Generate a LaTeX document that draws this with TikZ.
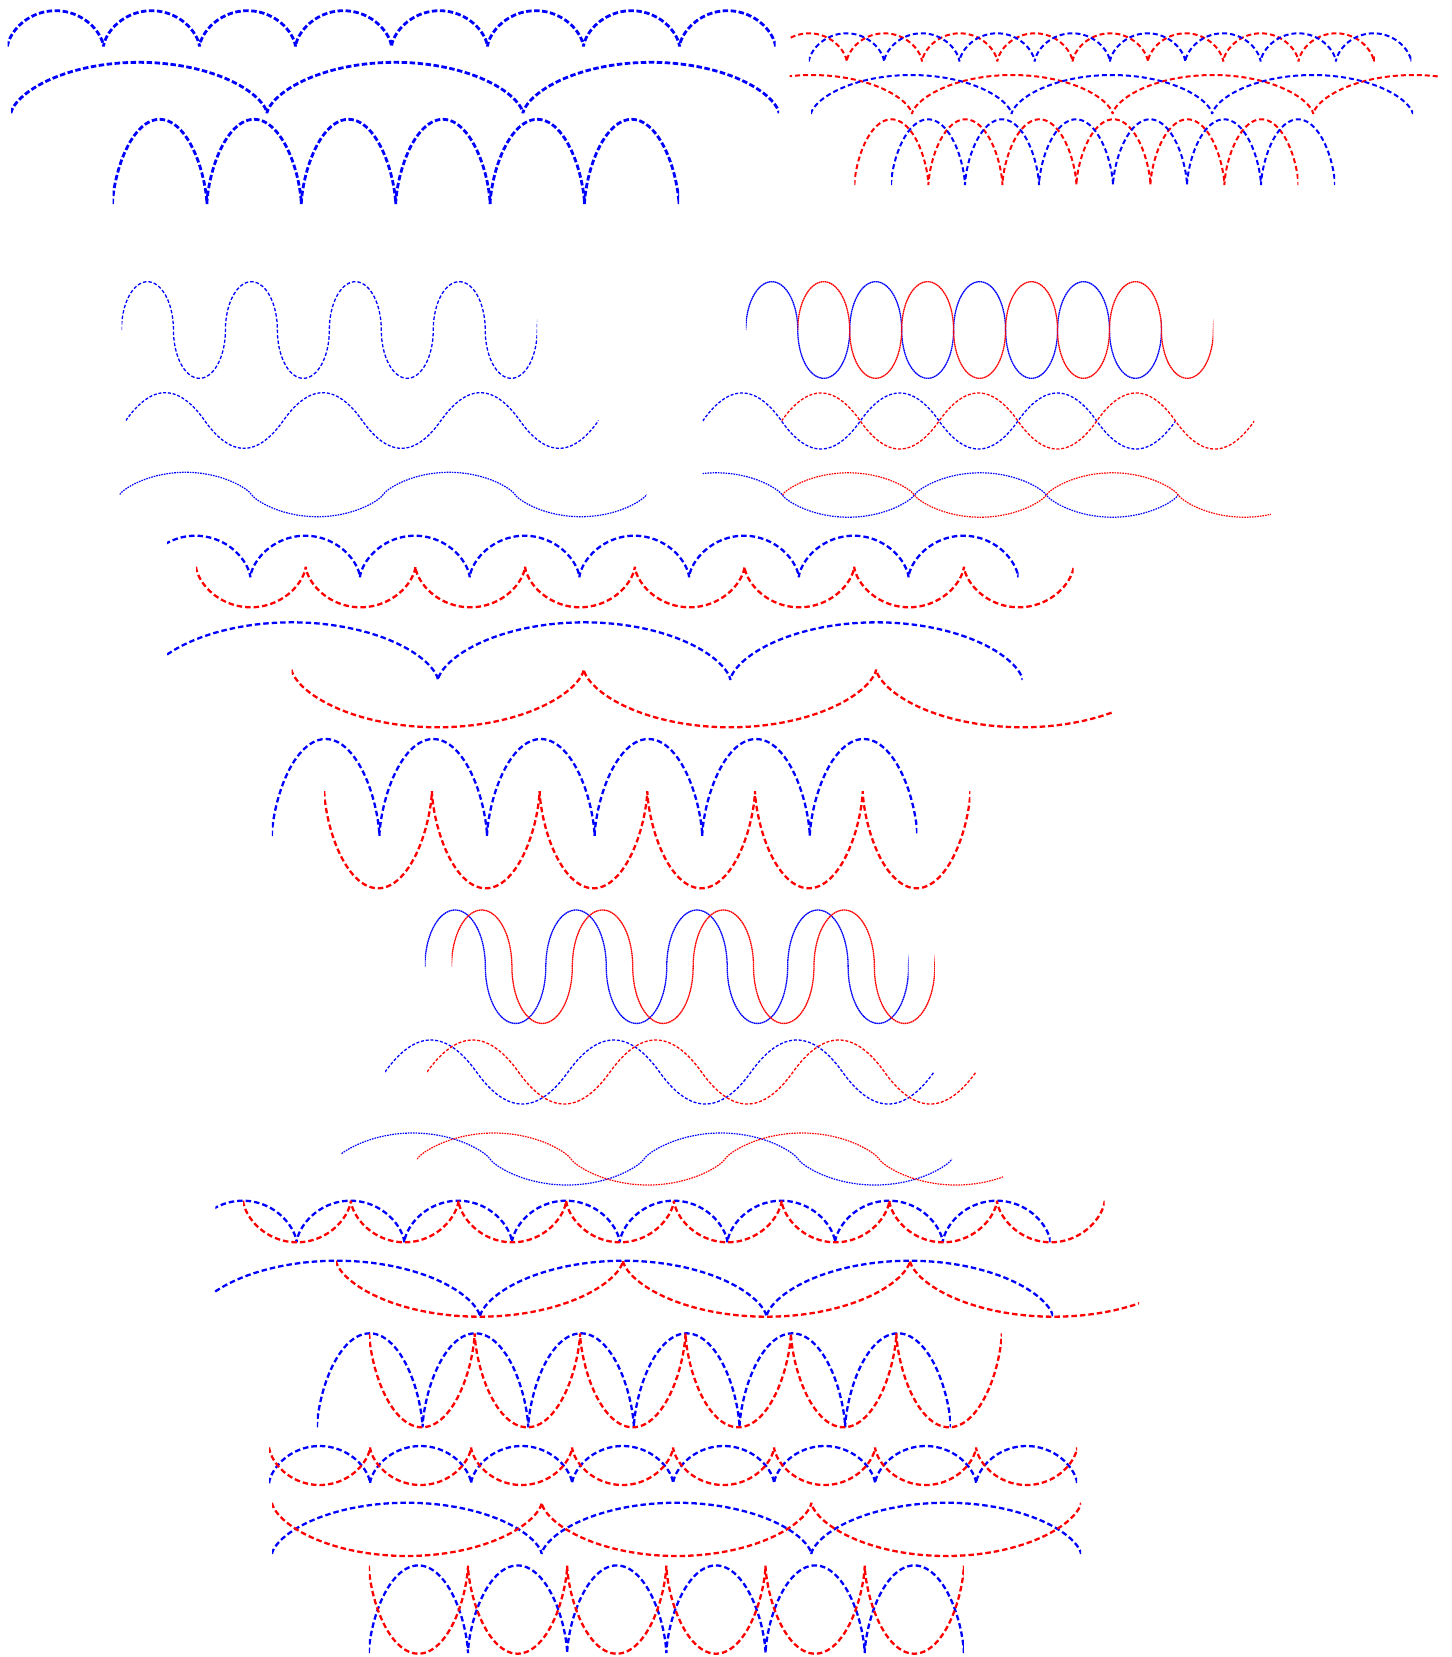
\documentclass[tikz,border=0pt]{standalone}
\tikzset{
  sA/.style={line width=2.8pt, dash pattern=on 5.5pt off 2.5pt},
  sB/.style={line width=2pt, dash pattern=on 5pt off 3pt},
  sC/.style={line width=1.3pt, dash pattern=on 3.5pt off 2pt},
  sCd/.style={line width=1.3pt, dash pattern=on 3pt off 1.8pt},
  sD/.style={line width=1.2pt, dash pattern=on 1.6pt off 1pt},
  sE/.style={line width=1.3pt, dash pattern=on 1.6pt off 0.5pt},
  sF/.style={line width=2.3pt, dash pattern=on 5.5pt off 3pt},
}
% #1 style, #2 x start, #3 x end, #4 phase origin (a cusp or crossing),
% #5 arc width, #6 base line y, #7 height,
% #8 type: 0 cycloid arcs on one side, 1 alternating parabolic arcs,
%          2 alternating half ellipses, 3 alternating flattened arcs
\newcommand\bumprow[8]{%
  \pgfmathsetmacro\brA{floor((#2-(#4))/(#5))}%
  \pgfmathsetmacro\brB{ceil((#3-(#4))/(#5))}%
  \pgfmathtruncatemacro\brN{round(\brB-\brA)*64+1}%
  \begin{scope}
    \clip (#2,0) rectangle (#3,1657);
    \ifcase#8
      \draw[#1] plot[domain=\brA:\brB, samples=\brN, variable=\q]
        ({#4+(\q-sin(360*\q)/6.283185)*(#5)}, {#6-(#7)*(1-cos(360*\q))/2});
    \or
      \draw[#1] plot[domain=\brA:\brB, samples=\brN, variable=\q]
        ({#4+\q*(#5)}, {#6-(#7)*cos(180*floor(\q))*4*(\q-floor(\q))*(1-\q+floor(\q))});
    \or
      \draw[#1] plot[domain=\brA:\brB, samples=\brN, variable=\q]
        ({#4+(floor(\q)+(1-cos(180*(\q-floor(\q))))/2)*(#5)}, {#6-(#7)*cos(180*floor(\q))*sin(180*(\q-floor(\q)))});
    \or
      \draw[#1] plot[domain=\brA:\brB, samples=\brN, variable=\q]
        ({#4+\q*(#5)}, {#6-(#7)*cos(180*floor(\q))*pow(max(4*(\q-floor(\q))*(1-\q+floor(\q)),0.0001),0.8)});
    \fi
  \end{scope}%
}
\begin{document}
\begin{tikzpicture}[x=1pt,y=-1pt]
\path[use as bounding box, fill=white] (0,0) rectangle (1451,1657);
% section 1, left
\bumprow{sA,blue}{7.5}{775.5}{7.5}{96}{46.7}{36}{0}
\bumprow{sA,blue}{11}{779}{11}{256}{113.3}{51}{0}
\bumprow{sA,blue}{112.5}{679}{112.5}{94.4}{204}{84.7}{0}
% section 1, right
\bumprow{sB,red}{789.5}{1374.8}{771.4}{75.3}{61.7}{28.4}{0}
\bumprow{sB,blue}{808.8}{1411.4}{808.8}{75.3}{61.7}{28.4}{0}
\bumprow{sB,red}{789.5}{1440}{711.4}{200.6}{114}{39}{0}
\bumprow{sB,blue}{811}{1413}{811}{200.6}{114}{39}{0}
\bumprow{sB,red}{854.4}{1298.4}{854.4}{74}{185}{65.7}{0}
\bumprow{sB,blue}{891}{1335}{891}{74}{185}{65.7}{0}
% section 2, left
\bumprow{sC,blue}{121.5}{537.2}{121.5}{51.96}{330}{48.3}{2}
\bumprow{sCd,blue}{125.8}{598.6}{125.8}{78.8}{420.5}{27.8}{1}
\bumprow{sD,blue}{119.7}{646.7}{119.7}{131.75}{494.5}{22.2}{3}
% section 2, right
\bumprow{sE,blue}{745.8}{1161.5}{745.8}{51.96}{330}{48.3}{2}
\bumprow{sE,red}{797.7}{1213.4}{797.7}{51.96}{330}{48.3}{2}
\bumprow{sCd,blue}{702.7}{1175.5}{702.7}{78.8}{421}{28}{1}
\bumprow{sCd,red}{781.5}{1254.3}{781.5}{78.8}{421}{28}{1}
\bumprow{sD,blue}{702.7}{1178.3}{650.3}{132}{495}{22.2}{3}
\bumprow{sD,red}{782.3}{1270.8}{782.3}{132}{495}{22.2}{3}
% section 3
\bumprow{sF,blue}{167.2}{1018.5}{140.6}{109.7}{577.3}{41.6}{0}
\bumprow{sF,red}{196}{1073.6}{196}{109.7}{566.7}{-40.6}{0}
\bumprow{sF,blue}{167.2}{1022.6}{145.7}{292.3}{680}{57.7}{0}
\bumprow{sF,red}{291.5}{1113}{291.5}{292.3}{669.3}{-58}{0}
\bumprow{sF,blue}{271.8}{917.4}{271.8}{107.6}{836}{97}{0}
\bumprow{sF,red}{324.2}{970.3}{324.2}{107.7}{791}{-97.3}{0}
% section 4
\bumprow{sE,blue}{424.9}{908.6}{424.9}{60.46}{966.7}{56.7}{2}
\bumprow{sE,red}{451.5}{934.8}{451.5}{60.41}{966.7}{56.7}{2}
\bumprow{sCd,blue}{385}{934}{385}{91.5}{1072}{32}{1}
\bumprow{sCd,red}{427}{976}{427}{91.5}{1072}{32}{1}
\bumprow{sD,blue}{341}{952}{336}{154}{1159}{26}{3}
\bumprow{sD,red}{417}{1003}{417}{154}{1159}{26}{3}
% section 5
\bumprow{sF,blue}{215.4}{1050.5}{188.9}{107.7}{1242.3}{41.6}{0}
\bumprow{sF,red}{243.1}{1104.7}{243.1}{107.7}{1200.7}{-41.6}{0}
\bumprow{sF,blue}{213.5}{1053}{193.5}{286.5}{1316.7}{56}{0}
\bumprow{sF,red}{336}{1139}{336}{287}{1260.7}{-56}{0}
\bumprow{sF,blue}{316.9}{950.8}{316.9}{105.65}{1427.3}{94}{0}
\bumprow{sF,red}{369.2}{1001.8}{369.2}{105.43}{1333.3}{-94}{0}
% section 6
\bumprow{sF,blue}{269.1}{1077.2}{269.1}{101}{1483.3}{37.3}{0}
\bumprow{sF,red}{269.1}{1077.2}{269.1}{101}{1447.3}{-37.7}{0}
\bumprow{sF,blue}{272}{1081}{272}{269.67}{1554}{51.3}{0}
\bumprow{sF,red}{272}{1081}{272}{269.67}{1502.7}{-53.3}{0}
\bumprow{sF,blue}{368.8}{963.9}{368.8}{99.18}{1653}{87.6}{0}
\bumprow{sF,red}{368.8}{963.9}{368.8}{99.18}{1565.7}{-88}{0}
\end{tikzpicture}
\end{document}
